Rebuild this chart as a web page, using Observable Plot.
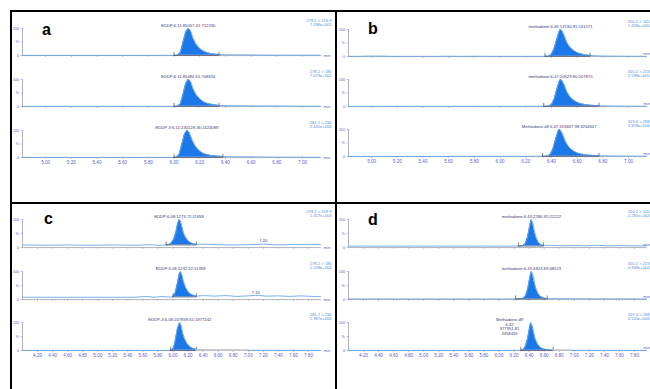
<!DOCTYPE html>
<html><head><meta charset="utf-8">
<script src="https://cdn.jsdelivr.net/npm/d3@7"></script>
<script src="https://cdn.jsdelivr.net/npm/@observablehq/plot@0.6"></script>
<style>
html,body{margin:0;padding:0;background:#fff;}
#fig{position:relative;width:650px;height:389px;overflow:hidden;background:#fff;}
.frame{position:absolute;background:#000;z-index:5;}
.trace{position:absolute;}
.letter{position:absolute;font:bold 16px "Liberation Sans",Arial,sans-serif;line-height:16px;color:#000;z-index:6;}
</style></head><body><div id="fig"></div>
<script>
// ---------- axis tick values / labels ----------
const xTicksAB = [5.00,5.20,5.40,5.60,5.80,6.00,6.20,6.40,6.60,6.80,7.00];
const xTicksCD = [4.20,4.40,4.60,4.80,5.00,5.20,5.40,5.60,5.80,6.00,6.20,6.40,6.60,6.80,7.00,7.20,7.40,7.60,7.80];
const yTicks = [0, 50, 100];
const yTickLabels = ["0", "%", "100"];
const domainAB = [4.82, 7.14];
const domainCD = [4.00, 7.96];

// ---------- panel a (EDDP, sample 1) ----------
const a1Time = [4.82,5.40,6.00,6.03,6.05,6.07,6.09,6.11,6.12,6.13,6.15,6.17,6.19,6.21,6.23,6.26,6.30,6.35,6.45,6.60,6.80,7.00,7.14];
const a1Int  = [0.5,0.5,0.6,2,12,50,86,100,97,90,62,43,31,22,16,10,6,3.5,2.5,2,1.5,1.2,1];
const a2Time = [4.82,5.40,6.00,6.03,6.05,6.07,6.09,6.11,6.12,6.13,6.15,6.17,6.19,6.21,6.23,6.26,6.30,6.35,6.45,6.60,6.77,7.00,7.14];
const a2Int  = [0.5,0.5,0.6,2,10,46,84,100,98,91,64,45,33,24,17,11,7,4,3,2.5,2,1,1];
const a3Time = [4.82,5.40,6.00,6.02,6.04,6.06,6.08,6.10,6.11,6.12,6.14,6.16,6.18,6.20,6.22,6.25,6.29,6.38,6.45,6.60,6.80,7.00,7.14];
const a3Int  = [0.5,0.5,0.6,2,12,48,85,100,98,92,66,46,33,24,17,11,7,3.5,3,2.5,1.5,1,0.8];
const aLabels = ["EDDP;6.11;85057.41;712230","EDDP;6.11;85484.61;708616","EDDP-3;6.11;230128.36;2424089"];
const aRight  = ["278.2 > 219.9\n7.196e+005","278.2 > 186\n7.073e+005","281.2 > 234\n2.441e+006"];
const aLabelAt = [6.11, 6.11, 6.10];
const aStart = [6.00, 6.00, 6.00];
const aEnd = [6.35, 6.35, 6.38];

// ---------- panel b (methadone, sample 1) ----------
const b1Time = [4.82,4.90,4.95,5.10,5.15,5.50,5.60,5.70,5.80,6.00,6.35,6.38,6.40,6.42,6.44,6.46,6.47,6.48,6.50,6.52,6.54,6.56,6.58,6.61,6.65,6.70,6.75,6.85,7.00,7.14];
const b1Int  = [0.5,0.6,1.5,1.5,0.6,0.6,1.2,0.6,1.0,0.6,0.8,1.5,8,28,62,93,100,97,78,52,37,27,20,12,7,4,2.5,1.5,1,0.8];
const b2Time = [4.82,5.50,6.00,6.34,6.38,6.40,6.42,6.44,6.46,6.47,6.48,6.50,6.52,6.54,6.56,6.58,6.61,6.65,6.70,6.77,6.90,7.14];
const b2Int  = [0.5,0.5,0.6,0.8,1.5,7,26,60,92,100,98,80,55,39,28,21,13,8,5,3,1.5,1];
const b3Time = [4.82,5.50,6.00,6.33,6.37,6.39,6.41,6.43,6.45,6.46,6.47,6.49,6.51,6.53,6.55,6.57,6.60,6.64,6.69,6.77,6.93,7.14];
const b3Int  = [0.5,0.5,0.6,0.8,1.5,7,26,60,92,100,98,80,55,39,28,21,13,8,5,3,2,1];
const bLabels = ["methadone;6.45;13740.81;141271","methadone;6.47;20529.80;207870","Methadone-d9;6.47;315687.98;3264507"];
const bRight  = ["310.2 > 105\n1.433e+005","310.2 > 223\n2.598e+005","319.4 > 268\n3.378e+006"];
const bLabelAt = [6.47, 6.47, 6.46];
const bStart = [6.35, 6.34, 6.33];
const bEnd = [6.70, 6.77, 6.77];

// ---------- panel c (EDDP, sample 2) ----------
const c1Time = [4.00,4.30,4.60,4.90,5.20,5.50,5.70,5.80,5.91,5.95,5.98,6.01,6.04,6.06,6.08,6.10,6.12,6.14,6.17,6.20,6.24,6.31,6.40,6.60,6.80,7.00,7.20,7.40,7.60,7.80,7.96];
const c1Int  = [9,8,9,8,9,8,10,8,9,11,17,30,56,83,100,95,74,52,35,24,16,11,12,10,9,10,12,9,11,10,11];
const c2Time = [4.00,4.30,4.60,4.90,5.20,5.50,5.65,5.75,5.85,5.92,6.00,6.03,6.06,6.08,6.10,6.12,6.14,6.17,6.20,6.24,6.31,6.40,6.55,6.70,6.85,7.00,7.10,7.25,7.40,7.55,7.70,7.85,7.96];
const c2Int  = [8,8,8,8,8,8,11,8,11,9,9,25,60,88,100,88,64,42,28,18,12,14,12,14,11,13,15,12,13,11,13,11,10];
const c3Time = [4.00,5.90,5.97,6.00,6.02,6.04,6.06,6.09,6.11,6.13,6.15,6.18,6.21,6.25,6.31,6.40,6.60,7.00,7.96];
const c3Int  = [0.3,0.3,0.5,6,22,50,80,100,88,62,45,28,17,9,4,2,1,0.5,0.3];
const cLabels = ["EDDP;6.08;1273.72;11859","EDDP;6.08;1232.22;11359","EDDP-3;6.08;207859.61;1977242"];
const cRight  = ["278.2 > 219.9\n1.317e+004","278.2 > 186\n1.209e+004","281.2 > 234\n1.987e+006"];
const cLabelAt = [6.08, 6.10, 6.09];
const cStart = [5.91, 6.00, 5.97];
const cEnd = [6.31, 6.31, 6.31];
const cNoiseTime = [7.20, 7.10];
const cNoiseLabel = ["7.20", "7.10"];

// ---------- panel d (methadone, sample 2) ----------
const d1Time = [4.00,4.50,5.00,5.50,6.00,6.26,6.32,6.35,6.38,6.40,6.42,6.43,6.45,6.47,6.49,6.52,6.55,6.59,6.70,6.85,7.00,7.15,7.30,7.45,7.60,7.75,7.96];
const d1Int  = [5,5,5,5,5,5,7,14,38,66,92,100,86,60,38,20,11,7,8,6,7,6,8,6,7,6,6];
const d2Time = [4.00,5.00,6.00,6.22,6.32,6.35,6.38,6.40,6.42,6.43,6.45,6.47,6.49,6.52,6.55,6.60,6.64,6.80,7.20,7.60,7.96];
const d2Int  = [2,2,2,2,4,12,36,65,92,100,87,62,40,21,11,5,3,3,2.5,2.5,2];
const d3Time = [4.00,6.00,6.29,6.32,6.35,6.38,6.40,6.42,6.44,6.46,6.48,6.51,6.54,6.58,6.65,6.72,7.00,7.96];
const d3Int  = [0.3,0.3,0.5,3,14,42,72,100,90,66,44,24,13,6,2.5,1,0.5,0.3];
const dLabels = ["methadone;6.43;2286.92;21222","methadone;6.43;4823.89;48523","Methadone-d9\n6.42\n377951.81\n3458455"];
const dRight  = ["310.2 > 105\n2.291e+004","310.2 > 223\n4.949e+004","319.4 > 268\n3.505e+006"];
const dLabelAt = [6.43, 6.43, 6.14];
const dStart = [6.26, 6.22, 6.29];
const dEnd = [6.59, 6.64, 6.72];

// ---------- styles ----------
const FONT = "Liberation Sans, Arial, sans-serif";
const tickColor = "#5b5bd2";
const axisColor = "#a0a0ae";
const fillColor = "#1a78e8";
const lineColor = "#6aa6e6";
const markColor = "#2a2a44";

function minorTicks(domain, step) {
  const n0 = Math.round(domain[0] / step), n1 = Math.round(domain[1] / step);
  return d3.range(n0, n1 + 1).map(i => +(i * step).toFixed(3));
}

function trace(o) {
  const data = o.time.map((t, i) => ({t, v: o.int[i]}));
  const peak = data.filter(d => d.t >= o.start - 1e-9 && d.t <= o.end + 1e-9);
  const base = peak.length ? peak[0].v : 0;
  const multi = o.label.includes("\n");
  const marks = [
    Plot.ruleY([0], {stroke: axisColor, strokeWidth: 0.7}),
    Plot.axisX({ticks: o.minor, tickSize: 1.3, tickFormat: () => "", stroke: axisColor, strokeWidth: 0.5, label: null}),
    Plot.axisX({ticks: o.major, tickSize: 2, tickPadding: 1.2, label: null,
      tickFormat: o.labels ? (d => d.toFixed(2)) : (() => ""),
      fontSize: 4.6, fill: tickColor, stroke: axisColor, strokeWidth: 0.6, fontFamily: FONT}),
    Plot.ruleX([o.domain[0]], {y1: 0, y2: 100, stroke: axisColor, strokeWidth: 0.8}),
    Plot.axisY({ticks: yTicks, tickFormat: d => yTickLabels[yTicks.indexOf(d)], tickSize: 1.5, tickPadding: 2,
      fontSize: 3.8, fill: tickColor, stroke: axisColor, strokeWidth: 0.6, label: null, fontFamily: FONT}),
    Plot.areaY(peak, {x: "t", y1: base, y2: "v", fill: fillColor, curve: "linear"}),
    Plot.line(data, {x: "t", y: "v", stroke: lineColor, strokeWidth: 0.9, curve: "linear"}),
    Plot.ruleY([base], {x1: o.start, x2: o.end, stroke: markColor, strokeWidth: 0.6}),
    Plot.ruleX([o.start, o.end], {y1: base - 3, y2: base + 11, stroke: markColor, strokeWidth: 0.6}),
    Plot.text([o.label], {x: o.labelAt, y: 100, dy: multi ? 4 : -1.5, text: d => d, fontSize: 4.2, lineHeight: 1.05,
      lineAnchor: multi ? "middle" : "bottom", fill: "#3a3a7a", fontFamily: FONT}),
    Plot.text([o.right], {x: o.domain[1], y: 100, dx: o.rightDx, dy: -10, text: d => d, textAnchor: "end",
      lineAnchor: "top", fontSize: 4.1, lineHeight: 1.08, fill: "#3f90e6", fontFamily: FONT}),
    o.edge
      ? Plot.text(["min"], {x: o.domain[1], y: 0, dx: 3.5, dy: -3, textAnchor: "end", fontSize: 4.2, fill: tickColor, fontFamily: FONT})
      : Plot.text(["min"], {x: o.domain[1], y: 0, dx: 3, textAnchor: "start", fontSize: 4.2, fill: tickColor, fontFamily: FONT})
  ];
  if (o.gray) marks.push(Plot.ruleY([1.2], {x1: o.gray[0], x2: o.gray[1], stroke: "#c4c4c8", strokeWidth: 1.6}));
  if (o.noise) marks.push(Plot.text([o.noise[1]], {x: o.noise[0], y: 11, dy: -3.5, text: d => d, fontSize: 4.2, fill: "#3a3a7a", fontFamily: FONT}));
  return Plot.plot({
    width: 340, height: 12 + o.ph + 12,
    marginLeft: 22, marginRight: 20, marginTop: 12, marginBottom: 12,
    x: {domain: o.domain, axis: null, label: null},
    y: {domain: [0, 100], axis: null, label: null},
    style: {background: "transparent", overflow: "visible", fontFamily: FONT},
    marks
  });
}

const fig = document.getElementById("fig");

const panels = [
  {letter: "a", ox: 0, lx: 42, ly: 22, tops: [28, 79, 130], ph: 27, domain: domainAB, major: xTicksAB, step: 0.02, edge: false,
   traces: [[a1Time, a1Int], [a2Time, a2Int], [a3Time, a3Int]], labels: aLabels, right: aRight, labelAt: aLabelAt, start: aStart, end: aEnd},
  {letter: "b", ox: 326, lx: 368, ly: 21, tops: [29, 79, 129], ph: 27, domain: domainAB, major: xTicksAB, step: 0.02, edge: true,
   traces: [[b1Time, b1Int], [b2Time, b2Int], [b3Time, b3Int]], labels: bLabels, right: bRight, labelAt: bLabelAt, start: bStart, end: bEnd},
  {letter: "c", ox: 0, lx: 44, ly: 211, tops: [219, 271, 322], ph: 28, domain: domainCD, major: xTicksCD, step: 0.04, edge: false,
   traces: [[c1Time, c1Int], [c2Time, c2Int], [c3Time, c3Int]], labels: cLabels, right: cRight, labelAt: cLabelAt, start: cStart, end: cEnd,
   gray: [null, null, [6.31, 7.00]], noise: [[cNoiseTime[0], cNoiseLabel[0]], [cNoiseTime[1], cNoiseLabel[1]], null]},
  {letter: "d", ox: 326, lx: 368, ly: 212, tops: [219, 271, 322], ph: 28, domain: domainCD, major: xTicksCD, step: 0.04, edge: true,
   traces: [[d1Time, d1Int], [d2Time, d2Int], [d3Time, d3Int]], labels: dLabels, right: dRight, labelAt: dLabelAt, start: dStart, end: dEnd,
   gray: [null, null, [6.72, 6.96]]}
];

for (const p of panels) {
  const minor = minorTicks(p.domain, p.step);
  p.traces.forEach(([time, int], i) => {
    const svg = trace({
      time, int, domain: p.domain, major: p.major, minor, ph: p.ph, labels: i === 2,
      label: p.labels[i], right: p.right[i], labelAt: p.labelAt[i], start: p.start[i], end: p.end[i],
      gray: p.gray ? p.gray[i] : null, noise: p.noise ? p.noise[i] : null,
      edge: p.edge, rightDx: p.edge ? 3 : 11
    });
    svg.classList.add("trace");
    svg.style.position = "absolute";
    svg.style.left = p.ox + "px";
    svg.style.top = (p.tops[i] - 12) + "px";
    fig.appendChild(svg);
  });
  const L = document.createElement("div");
  L.className = "letter";
  L.textContent = p.letter;
  L.style.left = p.lx + "px";
  L.style.top = p.ly + "px";
  fig.appendChild(L);
}

// frame lines
[[10, 10, 640, 2], [10, 202, 640, 2], [10, 10, 2, 379], [335, 10, 2, 379]].forEach(([x, y, w, h]) => {
  const f = document.createElement("div");
  f.className = "frame";
  Object.assign(f.style, {left: x + "px", top: y + "px", width: w + "px", height: h + "px"});
  fig.appendChild(f);
});
</script></body></html>
